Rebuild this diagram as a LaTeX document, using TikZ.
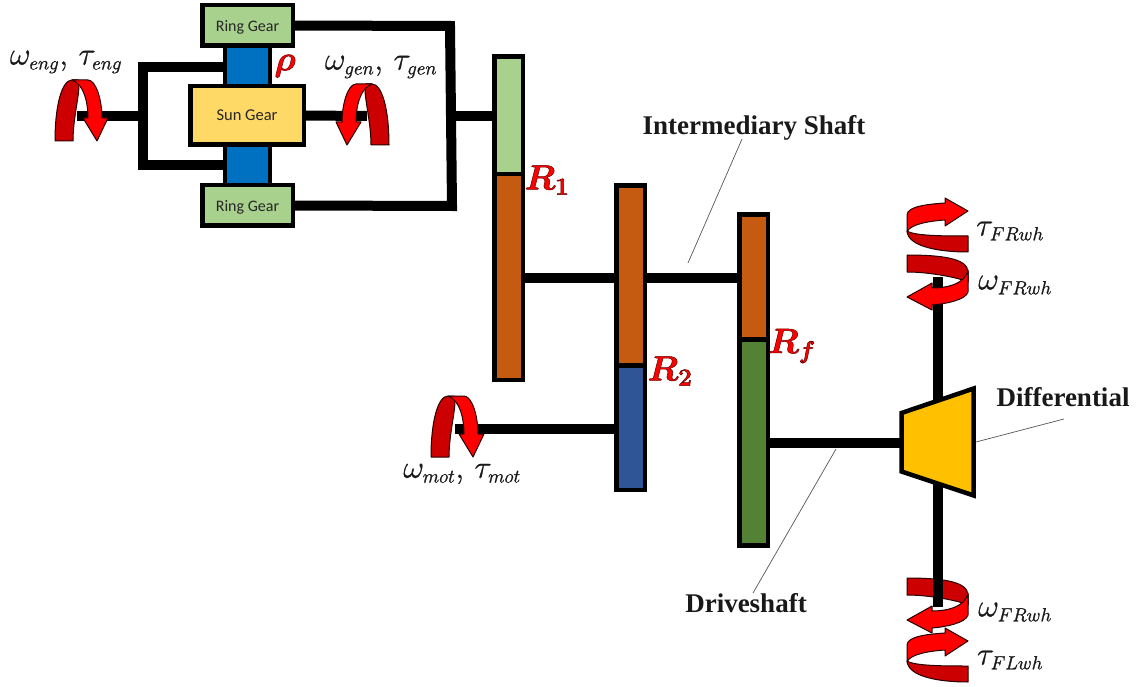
\RequirePackage{fix-cm}
\documentclass[tikz,border=0pt]{standalone}
\usepackage{fontspec}
\setmainfont{Liberation Serif}
\newfontfamily\calib{Carlito}
\usetikzlibrary{backgrounds}
\DeclareMathSizes{32}{32}{19}{14}
\definecolor{ringgreen}{HTML}{A9D18E}
\definecolor{sunyellow}{HTML}{FFD966}
\definecolor{carrierblue}{HTML}{0070C0}
\definecolor{gearorange}{HTML}{C55A11}
\definecolor{motorblue}{HTML}{2F5597}
\definecolor{drivegreen}{HTML}{548235}
\definecolor{diffgold}{HTML}{FFC000}
\definecolor{banddark}{HTML}{CC0000}
\definecolor{bandbright}{HTML}{FF0000}
\definecolor{leadergray}{HTML}{555555}
\newcommand\spinvertdark{(55,141) .. controls (55,105) and (62,80) .. (72,80) -- (78,80) .. controls (82,86) and (73,115) .. (73,141) -- cycle}
\newcommand\spinvertbright{(72,80) -- (88,80) .. controls (96,80) and (102,100) .. (102,118) -- (108,118) -- (97,141) -- (83,118) -- (88,118) .. controls (88,103) and (84,84) .. (72,80) -- cycle}
\newcommand\tauhdark{(907,231) .. controls (915,236) and (945,236) .. (968,236) -- (968,252) .. controls (940,252) and (908,247) .. (907,231) -- cycle}
\newcommand\tauhbright{(907,215) .. controls (907,206) and (930,204) .. (945,203) -- (945,198) -- (968,211) -- (945,226) -- (945,220) .. controls (930,221) and (910,224) .. (907,232) -- cycle}
\newcommand\omghdark{(907,255) .. controls (940,255) and (968,258) .. (968,272) -- (968,282) .. controls (960,278) and (930,272) .. (907,272) -- cycle}
\newcommand\omghbright{(968,270) -- (968,292) .. controls (966,300) and (945,304) .. (932,305) -- (932,310) -- (907,297) -- (932,283) -- (932,288) .. controls (945,288) and (965,285) .. (968,270) -- cycle}
\newcommand\strokedtext[1]{\special{pdf:code 2 Tr 0.5 w 0.4 0 0 RG}#1\special{pdf:code 0 Tr 0 0 0 RG}}
\newcommand\heavytext[1]{\special{pdf:code 2 Tr 0.25 w 0.1 0.1 0.1 RG}#1\special{pdf:code 0 Tr 0 0 0 RG}}
\tikzset{
  gearbox/.style={draw=black,line width=4.5pt,inner sep=0pt,outer sep=0pt,anchor=center},
  shaftline/.style={draw=black,line width=10pt,line cap=butt,line join=miter},
  leaderline/.style={draw=leadergray,line width=0.7pt},
  darkband/.style={fill=banddark,draw=black!85!red,line width=1pt,line join=round},
  brightband/.style={fill=bandbright,draw=black!85!red,line width=1pt,line join=round},
  gearname/.style={font=\calib\fontsize{16}{18}\selectfont,text=black!85,text depth=0pt},
  shaftname/.style={font=\bfseries\fontsize{27}{29}\selectfont,text=black!90,inner sep=0pt},
  mathlabel/.style={font=\fontsize{32}{34}\selectfont,text=black!90,inner sep=0pt},
  ratiotext/.style={font=\boldmath\fontsize{35}{38}\selectfont,text=bandbright,inner sep=0pt}
}
\begin{document}
\begin{tikzpicture}[x=1pt,y=-1pt]
\useasboundingbox (0,0) rectangle (1141,687);
% planetary set
\node[gearbox,fill=carrierblue,minimum width=44.6pt,minimum height=42pt] (c1) at (247.5,67) {};
\node[gearbox,fill=carrierblue,minimum width=44.6pt,minimum height=42pt] (c2) at (247.5,165) {};
\node[gearbox,fill=ringgreen,minimum width=90.5pt,minimum height=40.5pt,gearname] (ring1) at (247.5,25.5) {Ring Gear};
\node[gearbox,fill=ringgreen,minimum width=90.5pt,minimum height=40.5pt,gearname] (ring2) at (247.5,205.5) {Ring Gear};
\node[gearbox,fill=sunyellow,minimum width=113.5pt,minimum height=58.5pt,gearname,font=\calib\fontsize{16.5}{18}\selectfont] (sun) at (247,115.5) {Sun Gear};
% stepped gears
\node[gearbox,fill=ringgreen,minimum width=28.5pt,minimum height=117.5pt] (g1) at (508.5,115.2) {};
\node[gearbox,fill=gearorange,minimum width=28.5pt,minimum height=205.5pt] (o1) at (508.5,277) {};
\node[gearbox,fill=gearorange,minimum width=28.5pt,minimum height=180pt] (o2) at (630.5,275.5) {};
\node[gearbox,fill=motorblue,minimum width=28.5pt,minimum height=124pt] (b2) at (630.5,427.8) {};
\node[gearbox,fill=gearorange,minimum width=28.5pt,minimum height=125pt] (o3) at (753.5,277) {};
\node[gearbox,fill=drivegreen,minimum width=28.5pt,minimum height=205.5pt] (g3) at (753.5,442.5) {};
% differential
\coordinate (dTL) at (901.5,413);
\coordinate (dTR) at (973.7,388.5);
\coordinate (dBR) at (973.7,495.5);
\coordinate (dBL) at (901.5,471.5);
\draw[fill=diffgold,line width=4.5pt,line join=miter] (dTL) -- (dTR) -- (dBR) -- (dBL) -- cycle;
% free ends and junctions
\coordinate (engEnd) at (77,116);
\coordinate (engJ) at (143,116);
\coordinate (frA) at (143,67);
\coordinate (frB) at (143,165);
\coordinate (genEnd) at (367,116);
\coordinate (rjA) at (450,26);
\coordinate (rjB) at (452,206);
\coordinate (rjC) at (451,116);
\coordinate (imS) at (520,278);
\coordinate (motEnd) at (455,429);
\coordinate (drv) at (770,443);
\coordinate (diffMid) at (938,443);
\coordinate (wTop) at (938,277);
\coordinate (wBot) at (938,607);
\begin{pgfonlayer}{background}
  \draw[darkband] \tauhdark;
  \draw[darkband] \omghdark;
  \begin{scope}[yshift=-323pt]\draw[darkband] \omghdark;\end{scope}
  \begin{scope}[yshift=-430pt]\draw[darkband] \tauhdark;\end{scope}
  \draw[shaftline] (engEnd) -- (engJ);
  \draw[shaftline] (c1.west) -- (frA) -- (frB) -- (c2.west);
  \draw[shaftline] (sun.east) -- (genEnd);
  \draw[shaftline] (ring1.east) -- (rjA) -- (rjB) -- (ring2.east);
  \draw[shaftline] (rjC) -- (rjC -| g1.center);
  \draw[shaftline] (imS -| o1.center) -- (imS -| o3.center);
  \draw[shaftline] (motEnd) -- (motEnd -| b2.center);
  \draw[shaftline] (drv -| g3.center) -- (diffMid);
  \draw[shaftline] (wTop) -- (diffMid);
  \draw[shaftline] (wBot) -- (diffMid);
\end{pgfonlayer}
% rotation arrows
\draw[darkband] \spinvertdark;
\draw[brightband] \spinvertbright;
\begin{scope}[shift={(444,4)},xscale=-1]
  \draw[darkband] \spinvertdark;
  \draw[brightband] \spinvertbright;
\end{scope}
\begin{scope}[shift={(376,316)}]
  \draw[darkband] \spinvertdark;
  \draw[brightband] \spinvertbright;
\end{scope}
\draw[brightband] \tauhbright;
\draw[brightband] \omghbright;
\begin{scope}[yshift=-323pt]\draw[brightband] \omghbright;\end{scope}
\begin{scope}[yshift=-430pt]\draw[brightband] \tauhbright;\end{scope}
% names
\node[shaftname] (nIm) at (754,128) {Intermediary Shaft};
\node[shaftname] (nDr) at (746,603) {Driveshaft};
\node[shaftname] (nDi) at (1063,397) {Differential};
\coordinate (lIm1) at (742,139);
\coordinate (lIm2) at (688,263);
\coordinate (lDr1) at (836,449);
\coordinate (lDr2) at (753,593);
\coordinate (lDi1) at (976,442);
\coordinate (lDi2) at (1064,419);
\draw[leaderline] (lIm1) -- (lIm2);
\draw[leaderline] (lDr1) -- (lDr2);
\draw[leaderline] (lDi1) -- (lDi2);
% quantities
\node[mathlabel] (qEng) at (66,62) {\heavytext{$\omega_{eng},\,\tau_{eng}$}};
\node[mathlabel] (qGen) at (381,67) {\heavytext{$\omega_{gen},\,\tau_{gen}$}};
\node[mathlabel] (qMot) at (462,474) {\heavytext{$\omega_{mot},\,\tau_{mot}$}};
\node[mathlabel] (qTauR) at (1010,231) {\heavytext{$\tau_{FRwh}$}};
\node[mathlabel] (qOmR) at (1015,285) {\heavytext{$\omega_{FRwh}$}};
\node[mathlabel] (qOmL) at (1015,612) {\heavytext{$\omega_{FRwh}$}};
\node[mathlabel] (qTauL) at (1010,660) {\heavytext{$\tau_{FLwh}$}};
% ratios
\node[ratiotext] (rRho) at (285,66) {\strokedtext{$\rho$}};
\node[ratiotext] (rOne) at (547,180) {\strokedtext{$R_1$}};
\node[ratiotext] (rTwo) at (670,371) {\strokedtext{$R_2$}};
\node[ratiotext] (rFin) at (792,346) {\strokedtext{$R_f$}};
\end{tikzpicture}
\end{document}
